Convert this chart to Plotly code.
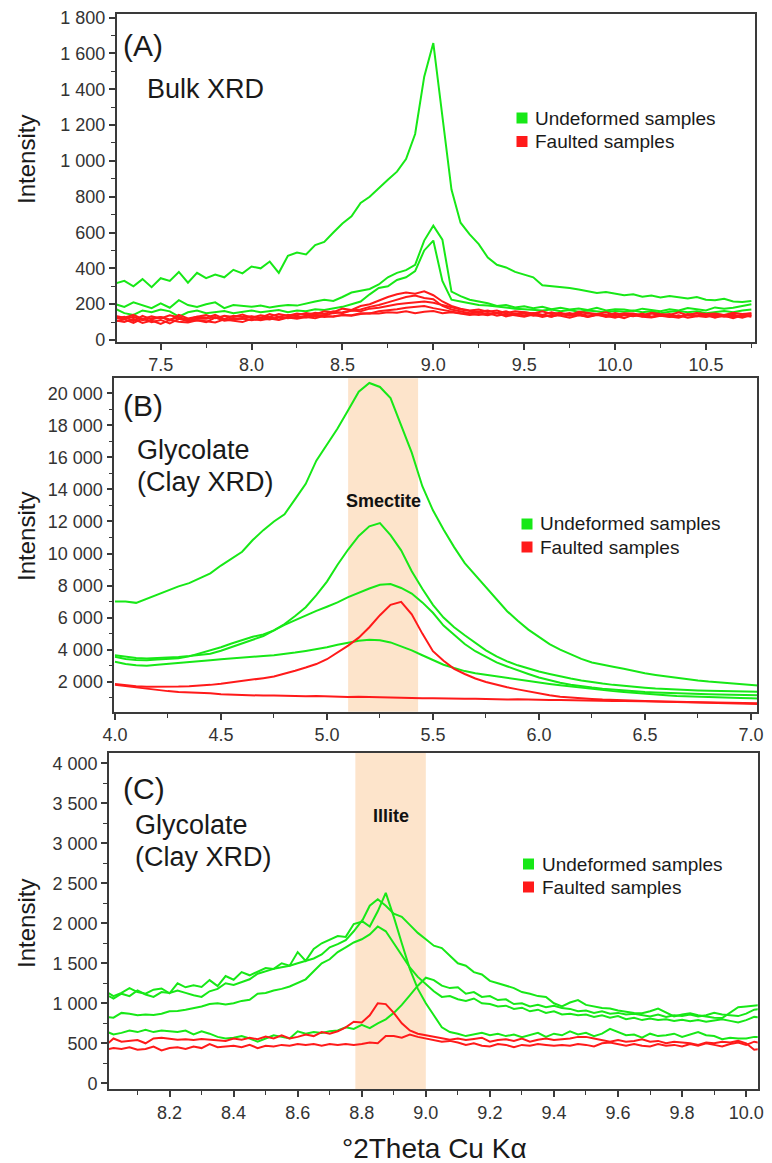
import plotly.graph_objects as go

# ---------------- DATA ----------------
# Panel A : Bulk XRD
x_a = [7.25, 7.30, 7.35, 7.40, 7.45, 7.50, 7.55, 7.60, 7.65, 7.70,
       7.75, 7.80, 7.85, 7.90, 7.95, 8.00, 8.05, 8.10, 8.15, 8.20,
       8.25, 8.30, 8.35, 8.40, 8.45, 8.50, 8.55, 8.60, 8.65, 8.70,
       8.75, 8.80, 8.85, 8.90, 8.95, 9.00, 9.05, 9.10, 9.15, 9.20,
       9.25, 9.30, 9.35, 9.40, 9.45, 9.50, 9.55, 9.60, 9.65, 9.70,
       9.75, 9.80, 9.85, 9.90, 9.95, 10.00, 10.05, 10.10, 10.15, 10.20,
       10.25, 10.30, 10.35, 10.40, 10.45, 10.50, 10.55, 10.60, 10.65, 10.70,
       10.75]
a_undeformed_1 = [316, 330, 300, 340, 295, 345, 330, 380, 320, 375,
                  345, 365, 350, 392, 372, 410, 400, 438, 375, 470,
                  488, 478, 530, 548, 600, 650, 690, 765, 800, 850,
                  895, 940, 1010, 1150, 1470, 1658, 1250, 840, 655, 590,
                  535, 460, 420, 405, 380, 365, 350, 305, 300, 298,
                  290, 282, 270, 262, 268, 258, 250, 255, 242, 248,
                  238, 245, 240, 232, 240, 225, 222, 230, 215, 212,
                  218]
a_undeformed_2 = [200, 185, 210, 195, 178, 205, 180, 222, 195, 185,
                  200, 210, 178, 195, 190, 185, 192, 182, 190, 195,
                  192, 205, 215, 225, 218, 240, 265, 275, 285, 310,
                  350, 375, 390, 420, 555, 638, 560, 270, 245, 225,
                  215, 205, 190, 195, 182, 188, 178, 185, 172, 180,
                  170, 176, 168, 180, 165, 172, 170, 162, 175, 168,
                  160, 172, 165, 178, 170, 165, 182, 175, 180, 190,
                  200]
a_undeformed_3 = [175, 150, 140, 165, 155, 170, 160, 130, 155, 165,
                  150, 158, 162, 150, 158, 165, 155, 160, 168, 155,
                  165, 160, 172, 168, 175, 185, 200, 215, 255, 290,
                  300, 335, 350, 385, 500, 555, 330, 225, 215, 205,
                  195, 192, 185, 178, 175, 172, 168, 165, 170, 160,
                  168, 158, 165, 160, 155, 162, 158, 165, 155, 160,
                  150, 158, 162, 155, 160, 150, 158, 162, 155, 165,
                  170]
a_faulted_1 = [120, 130, 105, 135, 115, 128, 110, 140, 120, 130,
               125, 140, 118, 135, 128, 132, 125, 145, 130, 140,
               138, 150, 142, 160, 155, 175, 168, 190, 200, 220,
               240, 255, 265, 258, 272, 250, 215, 190, 175, 165,
               170, 158, 165, 150, 160, 155, 148, 160, 145, 152,
               140, 158, 150, 145, 155, 140, 150, 148, 138, 152,
               145, 140, 155, 138, 150, 145, 148, 140, 152, 145, 150]
a_faulted_2 = [105, 115, 95, 120, 100, 112, 92, 118, 105, 110,
               100, 125, 108, 115, 120, 110, 118, 128, 115, 130,
               125, 135, 140, 138, 150, 155, 165, 170, 185, 195,
               210, 225, 240, 248, 235, 228, 190, 170, 160, 150,
               155, 145, 150, 140, 148, 135, 150, 142, 130, 145,
               138, 150, 132, 145, 140, 128, 142, 135, 148, 130,
               140, 135, 128, 145, 132, 140, 125, 138, 142, 130, 138]
a_faulted_3 = [135, 125, 140, 118, 132, 120, 138, 125, 115, 130,
               140, 122, 135, 128, 142, 125, 138, 130, 145, 135,
               148, 140, 152, 145, 160, 150, 165, 160, 175, 180,
               190, 200, 205, 210, 215, 208, 195, 180, 170, 162,
               158, 165, 150, 160, 145, 155, 148, 140, 155, 142,
               150, 138, 148, 142, 135, 150, 140, 145, 132, 148,
               138, 145, 130, 142, 148, 135, 145, 138, 130, 142, 148]
a_faulted_4 = [110, 100, 118, 95, 108, 90, 112, 102, 98, 110,
               105, 98, 115, 108, 100, 118, 110, 120, 112, 125,
               118, 128, 122, 135, 130, 140, 138, 150, 148, 160,
               165, 172, 180, 185, 190, 178, 170, 160, 150, 148,
               140, 150, 135, 145, 138, 130, 142, 128, 140, 135,
               125, 138, 130, 142, 128, 135, 122, 140, 130, 125,
               135, 128, 138, 125, 132, 140, 128, 135, 122, 138, 130]
a_faulted_5 = [125, 118, 130, 110, 122, 128, 115, 125, 108, 120,
               118, 128, 112, 122, 118, 130, 120, 115, 128, 122,
               130, 125, 135, 128, 132, 140, 135, 145, 150, 148,
               155, 152, 160, 150, 158, 162, 150, 155, 148, 140,
               145, 138, 150, 132, 142, 148, 135, 140, 130, 145,
               135, 142, 128, 140, 135, 125, 138, 132, 142, 128,
               138, 130, 125, 140, 132, 128, 138, 130, 135, 125, 140]

# Panel B : Glycolate, smectite region
x_b = [4.00, 4.05, 4.10, 4.15, 4.20, 4.25, 4.30, 4.35, 4.40, 4.45,
       4.50, 4.55, 4.60, 4.65, 4.70, 4.75, 4.80, 4.85, 4.90, 4.95,
       5.00, 5.05, 5.10, 5.15, 5.20, 5.25, 5.30, 5.35, 5.40, 5.45,
       5.50, 5.55, 5.60, 5.65, 5.70, 5.75, 5.80, 5.85, 5.90, 5.95,
       6.00, 6.05, 6.10, 6.15, 6.20, 6.25, 6.30, 6.35, 6.40, 6.45,
       6.50, 6.55, 6.60, 6.65, 6.70, 6.75, 6.80, 6.85, 6.90, 6.95,
       7.00, 7.05]
b_undeformed_1 = [7000, 7010, 6920, 7180, 7450, 7700, 7950, 8150, 8450, 8760,
                  9250, 9700, 10110, 10840, 11460, 12000, 12450, 13400, 14350, 15800,
                  16800, 17800, 18950, 20100, 20650, 20400, 19700, 18000, 16300, 14200,
                  12700, 11500, 10400, 9400, 8650, 7900, 7100, 6400, 5800, 5250,
                  4800, 4350, 4000, 3700, 3420, 3200, 3050, 2930, 2800, 2650,
                  2520, 2420, 2330, 2220, 2150, 2080, 2010, 1960, 1900, 1850,
                  1790, 1750]
b_undeformed_2 = [3650, 3560, 3480, 3450, 3470, 3500, 3540, 3600, 3660, 3750,
                  3930, 4150, 4400, 4620, 4850, 5200, 5600, 6100, 6650, 7400,
                  8250, 9300, 10250, 11100, 11700, 11900, 11150, 10200, 8900, 7800,
                  6800, 6000, 5400, 4900, 4400, 3950, 3580, 3270, 3020, 2820,
                  2630, 2480, 2330, 2200, 2080, 1970, 1880, 1800, 1730, 1670,
                  1620, 1570, 1530, 1500, 1470, 1450, 1430, 1410, 1390, 1380,
                  1370, 1360]
b_undeformed_3 = [3550, 3420, 3350, 3330, 3380, 3420, 3460, 3580, 3760, 3950,
                  4150, 4380, 4580, 4800, 4950, 5200, 5550, 5850, 6150, 6420,
                  6680, 6950, 7280, 7570, 7820, 8050, 8100, 7850, 7500, 6950,
                  6300, 5500, 4900, 4350, 3900, 3550, 3200, 2950, 2700, 2480,
                  2260, 2090, 1930, 1810, 1710, 1630, 1560, 1500, 1450, 1400,
                  1360, 1330, 1300, 1280, 1260, 1240, 1220, 1200, 1185, 1170,
                  1160, 1150]
b_undeformed_4 = [3250, 3100, 3020, 2990, 3050, 3100, 3150, 3200, 3260, 3330,
                  3400, 3460, 3520, 3560, 3600, 3650, 3720, 3820, 3920, 4030,
                  4150, 4300, 4430, 4560, 4620, 4580, 4450, 4200, 3950, 3650,
                  3350, 3060, 2850, 2660, 2520, 2420, 2320, 2230, 2130, 2040,
                  1950, 1860, 1780, 1700, 1620, 1550, 1480, 1410, 1350, 1290,
                  1240, 1190, 1150, 1110, 1080, 1050, 1030, 1010, 990, 975,
                  960, 950]
b_faulted_1 = [1850, 1780, 1720, 1690, 1680, 1690, 1700, 1720, 1750, 1800,
               1870, 1950, 2020, 2120, 2220, 2320, 2480, 2680, 2880, 3100,
               3400, 3800, 4250, 4750, 5400, 6150, 6800, 6980, 6200, 5000,
               3900, 3300, 2800, 2480, 2200, 1980, 1800, 1650, 1520, 1400,
               1250, 1150, 1060, 1000, 950, 920, 880, 850, 820, 800,
               780, 760, 745, 730, 710, 690, 670, 650, 635, 620,
               605, 600]
b_faulted_2 = [1800, 1720, 1610, 1540, 1450, 1410, 1350, 1330, 1280, 1270,
               1210, 1190, 1150, 1160, 1130, 1140, 1110, 1120, 1090, 1100,
               1070, 1080, 1050, 1060, 1040, 1030, 1010, 990, 990, 960,
               970, 950, 960, 930, 940, 910, 920, 890, 900, 870,
               880, 850, 860, 840, 830, 840, 810, 800, 800, 780,
               770, 760, 760, 740, 730, 720, 710, 700, 690, 680,
               665, 655]

# Panel C : Glycolate, illite region
x_c = [8.000, 8.025, 8.050, 8.075, 8.100, 8.125, 8.150, 8.175, 8.200, 8.225,
       8.250, 8.275, 8.300, 8.325, 8.350, 8.375, 8.400, 8.425, 8.450, 8.475,
       8.500, 8.525, 8.550, 8.575, 8.600, 8.625, 8.650, 8.675, 8.700, 8.725,
       8.750, 8.775, 8.800, 8.825, 8.850, 8.875, 8.900, 8.925, 8.950, 8.975,
       9.000, 9.025, 9.050, 9.075, 9.100, 9.125, 9.150, 9.175, 9.200, 9.225,
       9.250, 9.275, 9.300, 9.325, 9.350, 9.375, 9.400, 9.425, 9.450, 9.475,
       9.500, 9.525, 9.550, 9.575, 9.600, 9.625, 9.650, 9.675, 9.700, 9.725,
       9.750, 9.775, 9.800, 9.825, 9.850, 9.875, 9.900, 9.925, 9.950, 9.975,
       10.000, 10.025, 10.050]
c_undeformed_1 = [1150, 1090, 1130, 1190, 1140, 1120, 1170, 1185, 1125, 1250,
                  1200, 1225, 1205, 1290, 1215, 1340, 1295, 1390, 1350, 1400,
                  1440, 1430, 1500, 1470, 1640, 1530, 1680, 1750, 1790, 1840,
                  1830, 1990, 2020, 2220, 2300, 2220, 2120, 2080, 1980, 1880,
                  1800, 1720, 1690, 1590, 1500, 1470, 1390, 1360, 1280, 1250,
                  1220, 1190, 1140, 1120, 1090, 1080, 1000, 960, 1010, 1040,
                  980, 960, 940, 935, 910, 895, 880, 875, 900, 935,
                  880, 835, 860, 875, 850, 835, 820, 815, 880, 950,
                  960, 975, 980]
c_undeformed_2 = [1110, 1060, 1120, 1090, 1160, 1110, 1080, 1140, 1130, 1160,
                  1130, 1100, 1080, 1150, 1180, 1250, 1230, 1270, 1300, 1370,
                  1400, 1430, 1450, 1470, 1500, 1530, 1560, 1610, 1700, 1740,
                  1790, 1900, 2030, 1960, 2150, 2380, 2080, 1750, 1430, 1180,
                  1000, 850, 700, 640, 620, 590, 610, 630, 600, 620,
                  590, 610, 575, 600, 630, 580, 620, 600, 650, 610,
                  630, 590, 620, 680, 640, 600, 610, 570, 620, 590,
                  600, 620, 580, 610, 640, 600, 590, 550, 570, 560,
                  560, 580, 575]
c_undeformed_3 = [830, 820, 880, 870, 850, 860, 855, 870, 900, 905,
                  920, 940, 960, 990, 1000, 985, 1000, 1030, 1045, 1120,
                  1130, 1160, 1180, 1210, 1250, 1300, 1400, 1500, 1550, 1640,
                  1700, 1760, 1800, 1860, 1960, 1900, 1750, 1600, 1450, 1330,
                  1240, 1150, 1080, 1090, 1050, 1030, 1060, 1000, 990, 960,
                  970, 930, 945, 900, 920, 880, 900, 860, 870, 850,
                  860, 830, 850, 820, 840, 800, 820, 790, 810, 790,
                  800, 780, 795, 775, 790, 770, 785, 800, 780, 760,
                  790, 830, 820]
c_undeformed_4 = [650, 610, 630, 660, 640, 670, 640, 660, 650, 640,
                  660, 610, 650, 620, 580, 560, 570, 590, 560, 520,
                  560, 600, 580, 560, 650, 620, 640, 630, 650, 660,
                  700, 680, 730, 690, 750, 800, 880, 980, 1100, 1220,
                  1320, 1290, 1220, 1190, 1200, 1120, 1140, 1080, 1090, 1040,
                  1050, 990, 1000, 960, 980, 950, 970, 940, 930, 900,
                  910, 880, 900, 870, 880, 860, 870, 850, 835, 860,
                  830, 850, 840, 860, 835, 850, 880, 860, 850, 840,
                  870, 920, 930]
c_faulted_1 = [470, 560, 520, 530, 540, 500, 560, 570, 560, 545,
               550, 540, 555, 545, 540, 530, 560, 545, 570, 550,
               585, 560, 600, 560, 580, 610, 590, 640, 620, 650,
               700, 770, 760, 850, 1000, 990, 880, 750, 660, 620,
               600, 580, 560, 545, 560, 540, 555, 570, 520, 540,
               550, 530, 560, 520, 545, 560, 540, 550, 560, 580,
               580, 560, 540, 520, 540, 520, 530, 550, 520, 530,
               500, 520, 510, 500, 480, 510, 500, 520, 510, 530,
               500, 420, 430]
c_faulted_2 = [420, 440, 430, 450, 420, 430, 460, 410, 440, 450,
               430, 460, 440, 490, 450, 460, 470, 450, 480, 440,
               470, 460, 480, 470, 490, 480, 490, 470, 490, 480,
               490, 480, 490, 510, 500, 590, 590, 570, 610, 580,
               560, 540, 520, 530, 510, 480, 500, 470, 460, 490,
               480, 450, 480, 470, 490, 480, 470, 480, 470, 490,
               480, 460, 500, 510, 490, 470, 490, 470, 460, 490,
               470, 480, 460, 490, 470, 500, 480, 460, 490, 510,
               480, 520, 500]

# Shaded mineral windows (degrees 2theta)
smectite_band = [5.10, 5.43]
illite_band = [8.78, 9.00]

# Tick values / labels
a_xticks = [7.5, 8.0, 8.5, 9.0, 9.5, 10.0, 10.5]
a_xlabels = ["7.5", "8.0", "8.5", "9.0", "9.5", "10.0", "10.5"]
a_yticks = [0, 200, 400, 600, 800, 1000, 1200, 1400, 1600, 1800]
a_ylabels = ["0", "200", "400", "600", "800", "1 000", "1 200", "1 400", "1 600", "1 800"]
b_xticks = [4.0, 4.5, 5.0, 5.5, 6.0, 6.5, 7.0]
b_xlabels = ["4.0", "4.5", "5.0", "5.5", "6.0", "6.5", "7.0"]
b_yticks = [2000, 4000, 6000, 8000, 10000, 12000, 14000, 16000, 18000, 20000]
b_ylabels = ["2 000", "4 000", "6 000", "8 000", "10 000", "12 000", "14 000", "16 000", "18 000", "20 000"]
c_xticks = [8.2, 8.4, 8.6, 8.8, 9.0, 9.2, 9.4, 9.6, 9.8, 10.0]
c_xlabels = ["8.2", "8.4", "8.6", "8.8", "9.0", "9.2", "9.4", "9.6", "9.8", "10.0"]
c_yticks = [0, 500, 1000, 1500, 2000, 2500, 3000, 3500, 4000]
c_ylabels = ["0", "500", "1 000", "1 500", "2 000", "2 500", "3 000", "3 500", "4 000"]

legend_names = ["Undeformed samples", "Faulted samples"]

# ---------------- STYLE ----------------
GREEN = "#17e817"
RED = "#ff1a1a"
BAND = "#fde4cb"
AXIS = "#3a3a3a"
TICKTXT = "#333333"
FONT = "Liberation Sans, Arial, sans-serif"
PAGE_OFFSET = 8          # default page margin of the HTML body
W, H = 772 - PAGE_OFFSET, 1163 - PAGE_OFFSET

for name, xs, series in [
    ("A", x_a, [a_undeformed_1, a_undeformed_2, a_undeformed_3, a_faulted_1, a_faulted_2,
                a_faulted_3, a_faulted_4, a_faulted_5]),
    ("B", x_b, [b_undeformed_1, b_undeformed_2, b_undeformed_3, b_undeformed_4, b_faulted_1, b_faulted_2]),
    ("C", x_c, [c_undeformed_1, c_undeformed_2, c_undeformed_3, c_undeformed_4, c_faulted_1, c_faulted_2]),
]:
    for k, s in enumerate(series):
        assert len(s) == len(xs), f"panel {name} series {k}: {len(s)} vs {len(xs)}"

fig = go.Figure()


def add_panel(xs, greens, reds, xa, ya):
    for g in greens:
        fig.add_trace(go.Scatter(x=xs, y=g, mode="lines", line=dict(color=GREEN, width=2),
                                 name=legend_names[0], legendgroup="u",
                                 xaxis=xa, yaxis=ya, showlegend=False, hoverinfo="skip"))
    for r in reds:
        fig.add_trace(go.Scatter(x=xs, y=r, mode="lines", line=dict(color=RED, width=2),
                                 name=legend_names[1], legendgroup="f",
                                 xaxis=xa, yaxis=ya, showlegend=False, hoverinfo="skip"))


add_panel(x_a, [a_undeformed_1, a_undeformed_2, a_undeformed_3],
          [a_faulted_1, a_faulted_2, a_faulted_3, a_faulted_4, a_faulted_5], "x", "y")
add_panel(x_b, [b_undeformed_1, b_undeformed_2, b_undeformed_3, b_undeformed_4],
          [b_faulted_1, b_faulted_2], "x2", "y2")
add_panel(x_c, [c_undeformed_1, c_undeformed_2, c_undeformed_3, c_undeformed_4],
          [c_faulted_1, c_faulted_2], "x3", "y3")


def px_x(p):
    return (p - PAGE_OFFSET) / W


def px_y(p):
    return 1 - (p - PAGE_OFFSET) / H


def axis(domain, rng, tv, tt, minor_dtick, minor_tick0, anchor):
    return dict(domain=domain, range=rng, anchor=anchor, tickvals=tv, ticktext=tt,
                automargin=False, ticklabeloverflow="allow",
                showline=True, linecolor=AXIS, linewidth=1.6, mirror=True,
                ticks="outside", ticklen=6, tickwidth=1.5, tickcolor=AXIS,
                showgrid=False, zeroline=False,
                tickfont=dict(size=18, color=TICKTXT, family=FONT),
                minor=dict(ticks="outside", ticklen=4, tickwidth=1.3, tickcolor=AXIS,
                           dtick=minor_dtick, tick0=minor_tick0, showgrid=False))


layout = dict(
    width=W, height=H, margin=dict(l=0, r=0, t=0, b=0, pad=0, autoexpand=False),
    paper_bgcolor="white", plot_bgcolor="white",
    font=dict(family=FONT, color="#1a1a1a"),
    xaxis=axis([px_x(116.7), px_x(755)], [7.258, 10.77], a_xticks, a_xlabels, 0.25, 7.25, "y"),
    yaxis=axis([px_y(341.7), px_y(14)], [-9.5, 1820], a_yticks, a_ylabels, 100, 0, "x"),
    xaxis2=axis([px_x(114.3), px_x(757.3)], [3.997, 7.03], b_xticks, b_xlabels, 0.25, 4.0, "y2"),
    yaxis2=axis([px_y(711.7), px_y(378.3)], [125, 20940], b_yticks, b_ylabels, 1000, 0, "x2"),
    xaxis3=axis([px_x(109), px_x(757.7)], [8.011, 10.036], c_xticks, c_xlabels, 0.1, 8.0, "y3"),
    yaxis3=axis([px_y(1089.3), px_y(752.7)], [-75, 4132], c_yticks, c_ylabels, 250, 0, "x3"),
    showlegend=False,
)
fig.update_layout(**layout)

# shaded bands
fig.add_shape(type="rect", xref="x2", yref="y2 domain", x0=smectite_band[0], x1=smectite_band[1],
              y0=0, y1=1, fillcolor=BAND, line=dict(width=0), layer="below")
fig.add_shape(type="rect", xref="x3", yref="y3 domain", x0=illite_band[0], x1=illite_band[1],
              y0=0, y1=1, fillcolor=BAND, line=dict(width=0), layer="below")


# text annotations
def note(text, xpx, ypx, size, xanchor="left", angle=0, color="#1a1a1a"):
    fig.add_annotation(text=text, x=px_x(xpx), y=px_y(ypx), xref="paper", yref="paper",
                       xanchor=xanchor, yanchor="middle", showarrow=False, textangle=angle,
                       font=dict(size=size, color=color, family=FONT))


# per-panel key (coloured square + label), placed like the original keys
def key(sq_left, text_left, row_ys):
    for nm, col, yy in zip(legend_names, [GREEN, RED], row_ys):
        fig.add_shape(type="rect", xref="paper", yref="paper",
                      x0=px_x(sq_left), x1=px_x(sq_left + 11),
                      y0=px_y(yy + 5.5), y1=px_y(yy - 5.5),
                      fillcolor=col, line=dict(width=0))
        note(nm, text_left, yy, 19)


key(516.5, 533, [118, 141.5])
key(521.5, 538, [524, 547])
key(523, 540, [864, 887])

note("(A)", 121, 46, 30)
note("Bulk XRD", 145, 89, 27)
note("(B)", 121, 406, 30)
note("Glycolate", 135, 450, 27)
note("(Clay XRD)", 135, 482, 27)
note("(C)", 121, 788, 30)
note("Glycolate", 133, 825, 27)
note("(Clay XRD)", 133, 857, 27)

fig.add_annotation(text="<b>Smectite</b>", x=sum(smectite_band) / 2, y=px_y(501), xref="x2", yref="paper",
                   showarrow=False, xanchor="center", yanchor="middle",
                   font=dict(size=18, color="#111111", family=FONT))
fig.add_annotation(text="<b>Illite</b>", x=sum(illite_band) / 2, y=px_y(816), xref="x3", yref="paper",
                   showarrow=False, xanchor="center", yanchor="middle",
                   font=dict(size=18, color="#111111", family=FONT))

for ypx in (160, 537, 924):
    note("Intensity", 26, ypx, 24, xanchor="center", angle=-90)

note("°2Theta Cu Kα", 434, 1148, 28, xanchor="center")

fig.write_html("out.html")
